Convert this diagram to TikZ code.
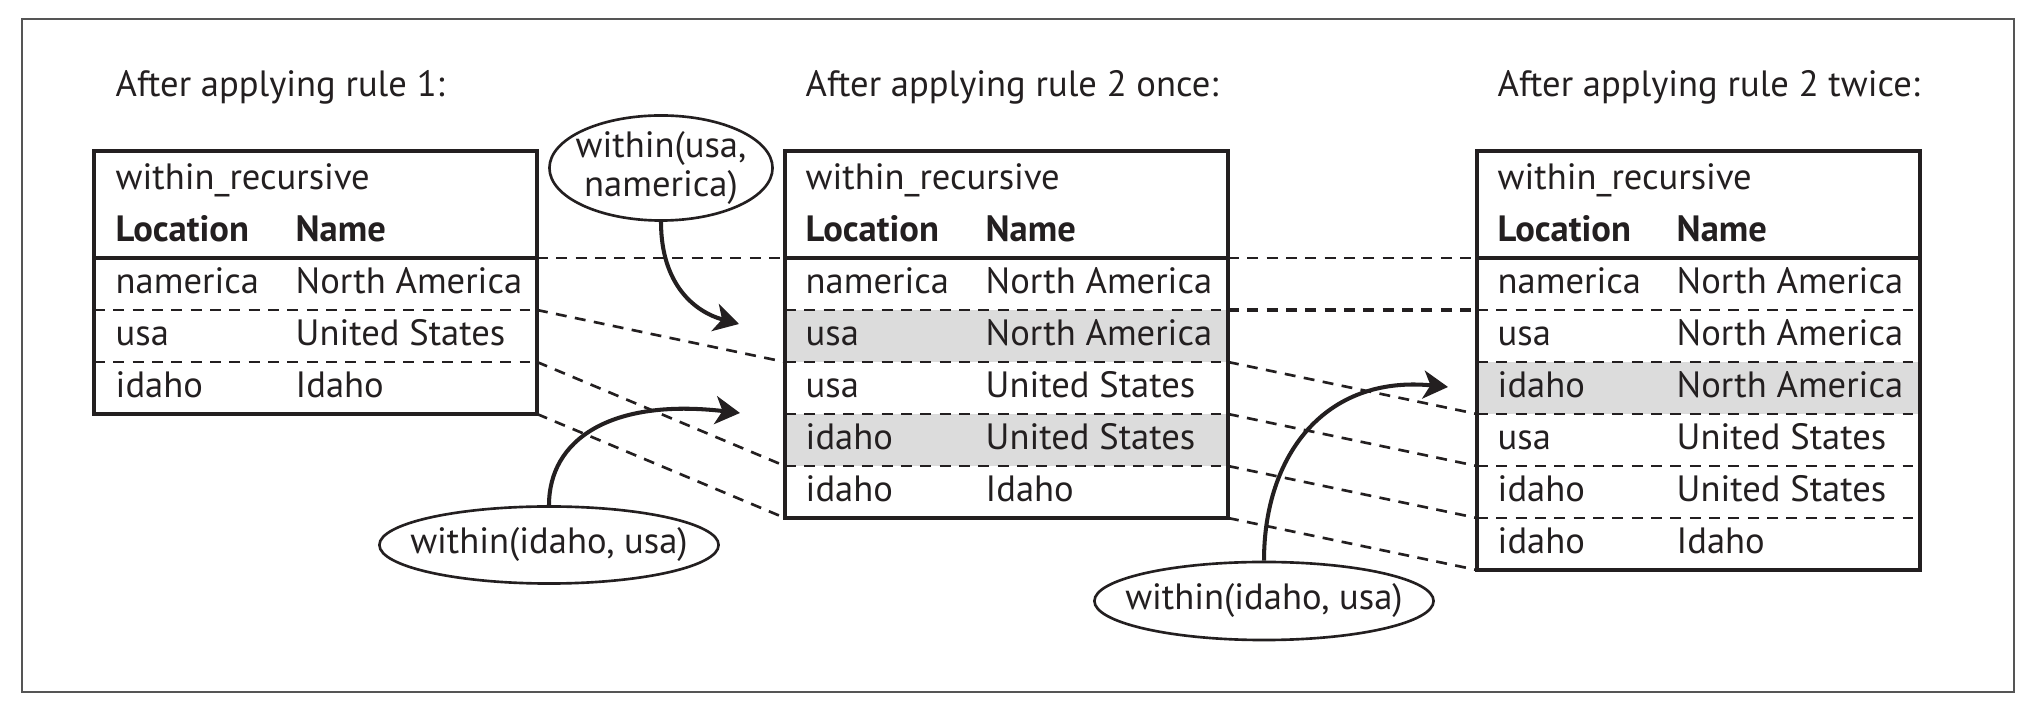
\documentclass[tikz,border=0pt]{standalone}
\usepackage{fontspec}
\setmainfont{PT Sans}
\usetikzlibrary{arrows.meta,positioning,shapes.geometric}
\definecolor{RecText}{HTML}{231F20}
\definecolor{RecShade}{HTML}{DCDCDC}
\definecolor{RecFrame}{HTML}{555555}

\tikzset{
  celltext/.style={anchor=base west, inner sep=0pt, text=RecText, font=\fontsize{10.4}{11.1}\selectfont},
  headtext/.style={celltext, font=\fontsize{10.4}{11.1}\selectfont\bfseries},
  bubble/.style={draw=RecText, line width=0.75pt, ellipse, inner sep=0pt},
  rowsep/.style={draw=RecText, line width=0.75pt, dash pattern=on 3.1pt off 2.4pt},
  link/.style={rowsep},
  tableline/.style={draw=RecText, line width=1.1pt},
  ruleto/.style={draw=RecText, line width=1.15pt, -{Stealth[length=7pt,width=8pt,inset=2pt]}},
}

\begin{document}
\begin{tikzpicture}[x=0.01cm,y=-0.01cm]
  \useasboundingbox (0,0) rectangle (2036,710);
  \draw[RecFrame, line width=0.6pt] (22,19) rectangle (2014,692);

  % titles
  \node[celltext] (title1) at (115,97) {After applying rule 1:};
  \node[celltext] (title2) at (805,97) {After applying rule 2 once:};
  \node[celltext] (title3) at (1497,97) {After applying rule 2 twice:};

  % shaded rows
  \fill[RecShade] (785,310) rectangle (1228,362);
  \fill[RecShade] (785,414) rectangle (1228,466);
  \fill[RecShade] (1477,362) rectangle (1920,414);

  % dashed row separators
  \foreach \y in {310,362} \draw[rowsep] (94,\y) -- (537,\y);
  \foreach \y in {310,362,414,466} \draw[rowsep] (785,\y) -- (1228,\y);
  \foreach \y in {310,362,414,466,518} \draw[rowsep] (1477,\y) -- (1920,\y);

  % table frames
  \draw[tableline] (94,151) rectangle (537,414) (94,258) -- (537,258);
  \draw[tableline] (785,151) rectangle (1228,518) (785,258) -- (1228,258);
  \draw[tableline] (1477,151) rectangle (1920,570) (1477,258) -- (1920,258);

  % row edges
  \foreach \i in {0,...,3} \coordinate (t1e\i) at (537,258+52*\i);
  \foreach \i in {0,...,5} {
    \coordinate (t2w\i) at (785,258+52*\i);
    \coordinate (t2e\i) at (1228,258+52*\i);
  }
  \foreach \i in {0,...,6} \coordinate (t3w\i) at (1477,258+52*\i);

  % table 1
  \node[celltext] (t1title) at (115,190) {within\_recursive};
  \node[headtext] (t1loc) at (115,242) {Location};
  \node[headtext] (t1full) at (295,242) {Name};
  \foreach \loc/\full [count=\i] in {namerica/North America, usa/United States, idaho/Idaho} {
    \node[celltext] (t1l\i) at (115,242+52*\i) {\loc};
    \node[celltext] (t1n\i) at (295,242+52*\i) {\full};
  }

  % table 2
  \node[celltext] (t2title) at (805,190) {within\_recursive};
  \node[headtext] (t2loc) at (805,242) {Location};
  \node[headtext] (t2full) at (985,242) {Name};
  \foreach \loc/\full [count=\i] in {namerica/North America, usa/North America, usa/United States, idaho/United States, idaho/Idaho} {
    \node[celltext] (t2l\i) at (805,242+52*\i) {\loc};
    \node[celltext] (t2n\i) at (985,242+52*\i) {\full};
  }

  % table 3
  \node[celltext] (t3title) at (1497,190) {within\_recursive};
  \node[headtext] (t3loc) at (1497,242) {Location};
  \node[headtext] (t3full) at (1676,242) {Name};
  \foreach \loc/\full [count=\i] in {namerica/North America, usa/North America, idaho/North America, usa/United States, idaho/United States, idaho/Idaho} {
    \node[celltext] (t3l\i) at (1497,242+52*\i) {\loc};
    \node[celltext] (t3n\i) at (1676,242+52*\i) {\full};
  }

  % row links
  \draw[link] (t1e0) -- (t2w0);
  \draw[link] (t1e1) -- (t2w2);
  \draw[link] (t1e2) -- (t2w4);
  \draw[link] (t1e3) -- (t2w5);
  \draw[link] (t2e0) -- (t3w0);
  \draw[link, line width=1.05pt] (t2e1) -- (t3w1);
  \draw[link] (t2e2) -- (t3w3);
  \draw[link] (t2e3) -- (t3w4);
  \draw[link] (t2e4) -- (t3w5);
  \draw[link] (t2e5) -- (t3w6);

  % rule bubbles
  \node[bubble, minimum width=2.23cm, minimum height=1.05cm] (rule1) at (661,168) {};
  \node[celltext, anchor=center, align=center] (rule1txt) at (rule1.center) {within(usa,\\namerica)};
  \node[bubble, minimum width=3.39cm, minimum height=0.77cm] (rule2a) at (549,545) {};
  \node[celltext, anchor=center] (rule2atxt) at (rule2a.center) {within(idaho, usa)};
  \node[bubble, minimum width=3.39cm, minimum height=0.78cm] (rule2b) at (1264,601) {};
  \node[celltext, anchor=center] (rule2btxt) at (rule2b.center) {within(idaho, usa)};

  % derivation arrows
  \coordinate (tip1) at (739,324);
  \coordinate (tip2) at (740,413);
  \coordinate (tip3) at (1448,387);
  \draw[ruleto] (rule1.south) .. controls (661,285) and (695,312) .. (tip1);
  \draw[ruleto] (rule2a.north) .. controls (549,440) and (610,398) .. (tip2);
  \draw[ruleto] (rule2b.north) .. controls (1264,455) and (1325,375) .. (tip3);
\end{tikzpicture}
\end{document}
